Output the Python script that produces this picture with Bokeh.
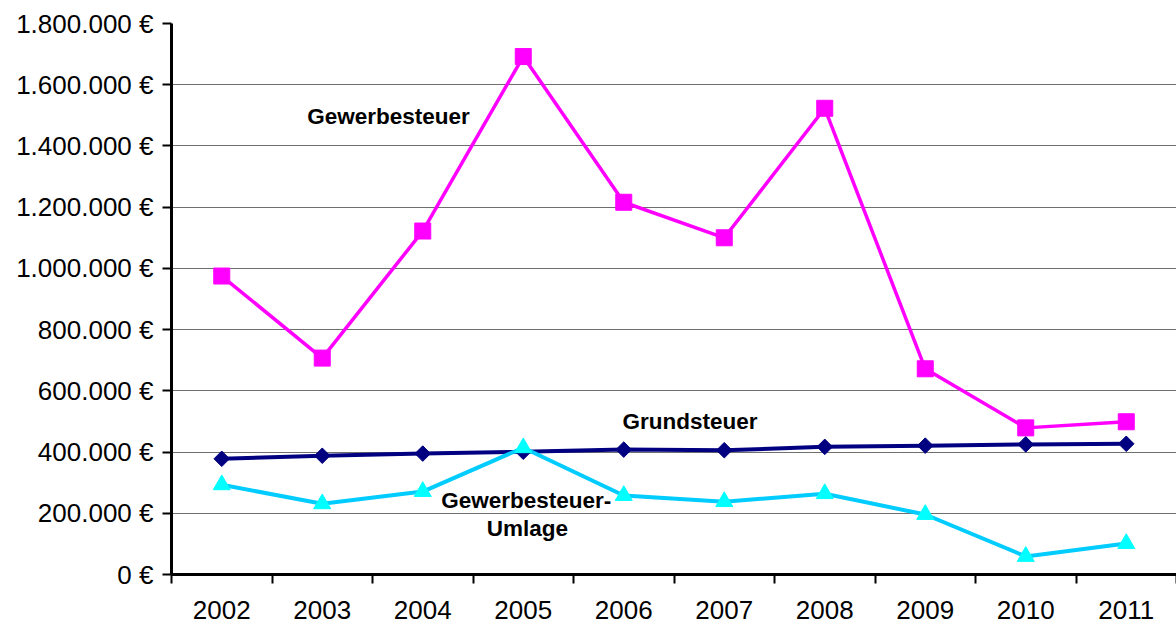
import math
from bokeh.plotting import figure
from bokeh.models import FixedTicker, Range1d, Label
from bokeh.embed import file_html
from bokeh.resources import INLINE

years = ["2002", "2003", "2004", "2005", "2006", "2007", "2008", "2009", "2010", "2011"]
gewerbesteuer = [975000, 707000, 1122000, 1692000, 1216000, 1100000, 1523000, 672000, 479000, 499000]
grundsteuer = [378000, 388000, 395000, 401000, 408000, 406000, 417000, 421000, 425000, 427000]
umlage = [293000, 231000, 271000, 414000, 258000, 238000, 264000, 196000, 59000, 101000]

y_ticks = [0, 200000, 400000, 600000, 800000, 1000000, 1200000, 1400000, 1600000, 1800000]
y_tick_labels = ["0 €", "200.000 €", "400.000 €", "600.000 €", "800.000 €", "1.000.000 €",
                 "1.200.000 €", "1.400.000 €", "1.600.000 €", "1.800.000 €"]

label_texts = ["Gewerbesteuer", "Grundsteuer", "Gewerbesteuer-", "Umlage"]
label_x = [2.16, 5.16, 3.53, 3.54]
label_y = [1497000, 499000, 241000, 150000]

FONT = "Liberation Sans"

xs = [i + 0.5 for i in range(len(years))]

p = figure(width=1176, height=625, output_backend="svg", toolbar_location=None,
           x_range=Range1d(0, len(years)), y_range=Range1d(0, 1800000),
           min_border_left=171, min_border_right=0, min_border_top=23, min_border_bottom=51)
p.outline_line_color = None
p.background_fill_color = "white"
p.border_fill_color = "white"

# X axis: labels at category centres, tick marks between categories
p.xaxis.ticker = FixedTicker(ticks=xs, minor_ticks=list(range(len(years) + 1)))
p.xaxis.major_label_overrides = {x: y for x, y in zip(xs, years)}
p.xaxis.major_tick_out = 0
p.xaxis.major_tick_in = 0
p.xaxis.minor_tick_out = 9
p.xaxis.minor_tick_in = 0
p.xaxis.minor_tick_line_width = 2
p.xaxis.minor_tick_line_color = "black"
p.xaxis.axis_line_width = 3
p.xaxis.axis_line_color = "black"
p.xaxis.major_label_text_font = FONT
p.xaxis.major_label_text_font_size = "26px"
p.xaxis.major_label_text_color = "black"
p.xaxis.major_label_standoff = 17

p.yaxis.ticker = FixedTicker(ticks=y_ticks)
p.yaxis.major_label_overrides = {t: l for t, l in zip(y_ticks, y_tick_labels)}
p.yaxis.minor_tick_line_color = None
p.yaxis.major_tick_out = 9
p.yaxis.major_tick_in = 0
p.yaxis.major_tick_line_width = 2
p.yaxis.major_tick_line_color = "black"
p.yaxis.axis_line_width = 3
p.yaxis.axis_line_color = "black"
p.yaxis.major_label_text_font = FONT
p.yaxis.major_label_text_font_size = "26px"
p.yaxis.major_label_text_color = "black"
p.yaxis.major_label_standoff = 9

p.xgrid.grid_line_color = None
p.ygrid.grid_line_color = "#6f6f6f"
p.ygrid.grid_line_width = 1.2

# Gewerbesteuer
p.line(xs, gewerbesteuer, line_color="#FF00FF", line_width=3.5)
p.scatter(xs, gewerbesteuer, marker="square", size=16, fill_color="#FF00FF", line_color="#FF00FF")

# Grundsteuer
p.line(xs, grundsteuer, line_color="#000080", line_width=4)
p.scatter(xs, grundsteuer, marker="square", size=11, angle=math.pi / 4,
          fill_color="#000080", line_color="#000080")

# Gewerbesteuer-Umlage
p.line(xs, umlage, line_color="#00CCFF", line_width=4)
p.scatter(xs, umlage, marker="triangle", size=17, fill_color="#00FFFF", line_color="#00FFFF")

for t, lx, ly in zip(label_texts, label_x, label_y):
    p.add_layout(Label(x=lx, y=ly, text=t, text_align="center", text_baseline="middle",
                       text_font=FONT, text_font_style="bold", text_font_size="22.5px",
                       text_color="black"))

open("out.html", "w").write(file_html(p, INLINE))
